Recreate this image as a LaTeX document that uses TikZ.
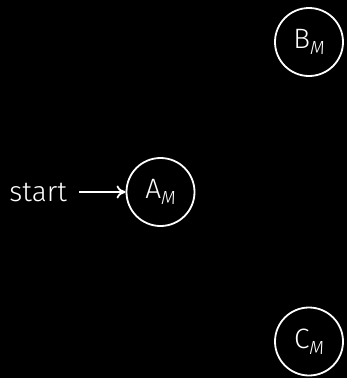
\documentclass[tikz,border=0pt]{standalone}
\usepackage{fontspec}
\setmainfont{Fira Sans}[UprightFont=* Light, ItalicFont=* Light Italic]
\usetikzlibrary{arrows.meta}
\newcommand{\subM}{\raisebox{-6pt}{\fontsize{19}{21}\selectfont\itshape M}}
\begin{document}
\begin{tikzpicture}[x=1pt,y=-1pt,
  every node/.style={text=white},
  statenode/.style={draw=white, circle, line width=1.8pt, minimum size=68pt, inner sep=0pt,
    font=\fontsize{28}{32}\selectfont},
  startlabel/.style={inner sep=0pt, anchor=east, font=\fontsize{28}{32}\selectfont},
  initarrow/.style={draw=white, line width=1.8pt, -{To[length=9pt,width=13pt]}, shorten <=12pt}
]
\fill[black] (0,0) rectangle (347,378);
\useasboundingbox (0,0) rectangle (347,378);
\node[statenode] (A) at (160.5,192) {A\subM};
\node[statenode] (B) at (309,42) {B\subM};
\node[statenode] (C) at (309,341.5) {C\subM};
\node[startlabel] (start) at (67,192) {start};
\draw[initarrow] (start) -- (A);
\end{tikzpicture}
\end{document}
